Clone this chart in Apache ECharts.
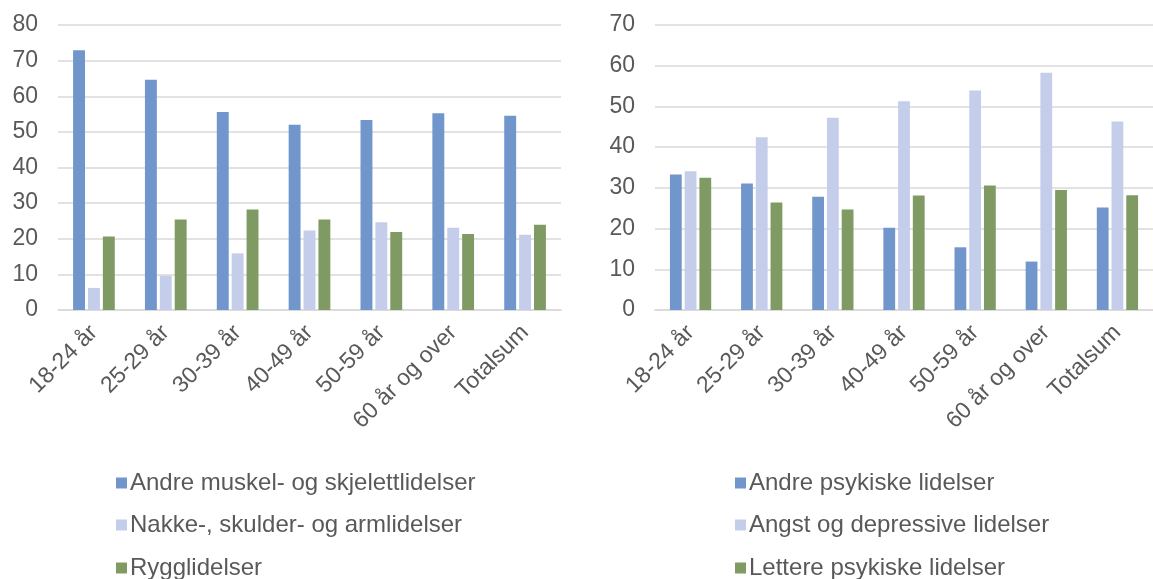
<!DOCTYPE html>
<html>
<head>
<meta charset="utf-8">
<script src="https://cdn.jsdelivr.net/npm/echarts@6/dist/echarts.min.js"></script>
<style>
html,body{margin:0;padding:0;background:#fff;}
#c{width:1153px;height:579px;}
</style>
</head>
<body>
<div id="c"></div>
<script>
const categories = ['18-24 år','25-29 år','30-39 år','40-49 år','50-59 år','60 år og over','Totalsum'];

const leftNames = ['Andre muskel- og skjelettlidelser','Nakke-, skulder- og armlidelser','Rygglidelser'];
const leftMuskel = [72.9, 64.6, 55.6, 52.0, 53.3, 55.2, 54.5];
const leftNakke  = [6.2, 9.6, 15.9, 22.3, 24.6, 23.1, 21.1];
const leftRygg   = [20.6, 25.4, 28.2, 25.4, 21.9, 21.3, 23.9];

const rightNames = ['Andre psykiske lidelser','Angst og depressive lidelser','Lettere psykiske lidelser'];
const rightAndre  = [33.3, 31.1, 27.8, 20.2, 15.4, 11.9, 25.2];
const rightAngst  = [34.1, 42.4, 47.2, 51.3, 53.9, 58.3, 46.3];
const rightLetter = [32.5, 26.4, 24.7, 28.1, 30.6, 29.5, 28.2];

const leftTicks = {min: 0, max: 80, interval: 10};
const rightTicks = {min: 0, max: 70, interval: 10};

const colors = ['#7096CB', '#C4CEEA', '#7F9A62'];
const FONT = 'Liberation Sans, Arial, sans-serif';
const TXT = '#595959';

function xAxis(gridIndex) {
  return {
    type: 'category', gridIndex, data: categories,
    axisLine: {show: true, lineStyle: {color: '#d9d9d9', width: 1.5}},
    axisTick: {show: false},
    axisLabel: {rotate: 45, color: TXT, fontSize: 23, fontFamily: FONT, margin: 19, interval: 0}
  };
}
function yAxis(gridIndex, t) {
  return {
    type: 'value', gridIndex, min: t.min, max: t.max, interval: t.interval,
    axisLine: {show: false}, axisTick: {show: false},
    splitLine: {lineStyle: {color: '#d9d9d9', width: 1.5}},
    axisLabel: {color: TXT, fontSize: 23, fontFamily: FONT, margin: 20}
  };
}
function bar(name, data, idx, axisIdx) {
  return {
    name, type: 'bar', data, xAxisIndex: axisIdx, yAxisIndex: axisIdx,
    itemStyle: {color: colors[idx]},
    barGap: '25%', barCategoryGap: '42%'
  };
}
function legend(name, left, top) {
  return {
    data: [name], left, top, itemWidth: 11, itemHeight: 11, icon: 'rect',
    padding: 0, itemGap: 0,
    textStyle: {color: TXT, fontSize: 24, fontFamily: FONT, padding: [0, 0, 0, -2]}
  };
}

const chart = echarts.init(document.getElementById('c'), null, {renderer: 'canvas'});
const rowTops = [471, 513, 556];
chart.setOption({
  animation: false,
  backgroundColor: '#ffffff',
  grid: [
    {left: 58, right: 592, top: 25, bottom: 269},
    {left: 655, right: -8, top: 25, bottom: 269}
  ],
  xAxis: [xAxis(0), xAxis(1)],
  yAxis: [yAxis(0, leftTicks), yAxis(1, rightTicks)],
  legend: [
    legend(leftNames[0], 116, rowTops[0]),
    legend(leftNames[1], 116, rowTops[1]),
    legend(leftNames[2], 116, rowTops[2]),
    legend(rightNames[0], 735, rowTops[0]),
    legend(rightNames[1], 735, rowTops[1]),
    legend(rightNames[2], 735, rowTops[2])
  ],
  series: [
    bar(leftNames[0], leftMuskel, 0, 0),
    bar(leftNames[1], leftNakke, 1, 0),
    bar(leftNames[2], leftRygg, 2, 0),
    bar(rightNames[0], rightAndre, 0, 1),
    bar(rightNames[1], rightAngst, 1, 1),
    bar(rightNames[2], rightLetter, 2, 1)
  ]
});
</script>
</body>
</html>
